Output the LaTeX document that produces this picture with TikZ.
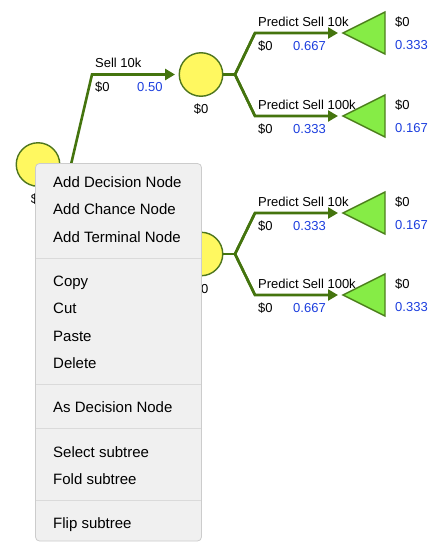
\documentclass[tikz,border=0pt]{standalone}
\usepackage{fontspec}
\setmainfont{Liberation Sans}
\usetikzlibrary{arrows.meta}
\definecolor{edgegreen}{RGB}{68,116,14}
\definecolor{circborder}{RGB}{78,118,30}
\definecolor{chancefill}{RGB}{255,248,96}
\definecolor{termfill}{RGB}{134,236,70}
\definecolor{termborder}{RGB}{76,128,28}
\definecolor{probblue}{RGB}{28,62,222}
\definecolor{menufill}{RGB}{240,240,240}
\definecolor{menuborder}{RGB}{204,204,204}
\definecolor{menusep}{RGB}{218,218,218}
\begin{document}
\begin{tikzpicture}[x=1pt,y=-1pt,
  chance/.style={circle, draw=circborder, fill=chancefill, line width=1.4pt, minimum size=43.5pt, inner sep=0pt},
  term/.style={draw=termborder, fill=termfill, line width=1.4pt, line join=miter},
  edgeline/.style={draw=edgegreen, line width=2.6pt},
  edgearrow/.style={edgeline, -{Triangle[length=10pt,width=11pt]}},
  lbl/.style={anchor=base west, inner sep=0pt, font=\fontsize{13}{15}\selectfont},
  prob/.style={lbl, text=probblue},
  vallbl/.style={anchor=base, inner sep=0pt, font=\fontsize{13}{15}\selectfont},
  menuitem/.style={anchor=base west, inner sep=0pt, font=\fontsize{15}{18}\selectfont},
  menusepline/.style={draw=menusep, line width=1pt}
]
\useasboundingbox (0,0) rectangle (437,554);

% chance nodes
\node[chance] (root) at (38,164.5) {};
\node[chance] (c1) at (201,74.5) {};
\node[chance] (c2) at (201,254) {};
\node[vallbl] (rootv) at (38,203) {\$0};
\node[vallbl] (c1v) at (201,113) {\$0};
\node[vallbl] (c2v) at (201,293) {\$0};

% terminal nodes (apex coordinates)
\coordinate (t1) at (343,33);
\coordinate (t2) at (343,116);
\coordinate (t3) at (343,213);
\coordinate (t4) at (343,295);
\draw[term] (t1) -- (385,12) -- (385,54) -- cycle;
\draw[term] (t2) -- (385,95) -- (385,137) -- cycle;
\draw[term] (t3) -- (385,192) -- (385,234) -- cycle;
\draw[term] (t4) -- (385,274) -- (385,316) -- cycle;

% bend points
\coordinate (r0) at (71,164.5);
\coordinate (b1) at (92,74.5);
\coordinate (b2) at (92,254);
\coordinate (j1) at (235,74.5);
\coordinate (u1) at (255,33);
\coordinate (d1) at (255,116);
\coordinate (j2) at (235,254);
\coordinate (u2) at (255,213);
\coordinate (d2) at (255,295);

% root edges
\draw[edgeline] (root.east) -- (r0);
\draw[edgearrow, shorten >=3.5pt] (r0) -- (b1) -- (c1.west);
\draw[edgearrow, shorten >=3.5pt] (r0) -- (b2) -- (c2.west);

% first chance node branches
\draw[edgeline] (c1.east) -- (j1);
\draw[edgeline] (u1) -- (j1) -- (d1);
\draw[edgearrow, shorten >=5pt] (j1) -- (u1) -- (t1);
\draw[edgearrow, shorten >=5pt] (j1) -- (d1) -- (t2);

% second chance node branches
\draw[edgeline] (c2.east) -- (j2);
\draw[edgeline] (u2) -- (j2) -- (d2);
\draw[edgearrow, shorten >=5pt] (j2) -- (u2) -- (t3);
\draw[edgearrow, shorten >=5pt] (j2) -- (d2) -- (t4);

% edge labels
\node[lbl] (l1) at (95,67) {Sell 10k};
\node[lbl] (l1v) at (95,91) {\$0};
\node[prob] (l1p) at (137,91) {0.50};

\node[lbl] (l2) at (258,26) {Predict Sell 10k};
\node[lbl] (l2v) at (258,50) {\$0};
\node[prob] (l2p) at (293,50) {0.667};
\node[lbl] (t1v) at (395,26.5) {\$0};
\node[prob] (t1p) at (395,49.5) {0.333};

\node[lbl] (l3) at (258,109) {Predict Sell 100k};
\node[lbl] (l3v) at (258,133) {\$0};
\node[prob] (l3p) at (293,133) {0.333};
\node[lbl] (t2v) at (395,109.5) {\$0};
\node[prob] (t2p) at (395,132.5) {0.167};

\node[lbl] (l4) at (258,206) {Predict Sell 10k};
\node[lbl] (l4v) at (258,230) {\$0};
\node[prob] (l4p) at (293,230) {0.333};
\node[lbl] (t3v) at (395,206.5) {\$0};
\node[prob] (t3p) at (395,229.5) {0.167};

\node[lbl] (l5) at (258,288) {Predict Sell 100k};
\node[lbl] (l5v) at (258,312) {\$0};
\node[prob] (l5p) at (293,312) {0.667};
\node[lbl] (t4v) at (395,288.5) {\$0};
\node[prob] (t4p) at (395,311.5) {0.333};

% context menu
\draw[fill=menufill, draw=menuborder, line width=0.8pt, rounded corners=4pt] (35.5,163.5) rectangle (201.5,541);
\draw[menusepline] (36,258) -- (201,258);
\draw[menusepline] (36,384.5) -- (201,384.5);
\draw[menusepline] (36,428) -- (201,428);
\draw[menusepline] (36,500) -- (201,500);

\node[menuitem] (m1) at (53,187) {Add Decision Node};
\node[menuitem] (m2) at (53,214.5) {Add Chance Node};
\node[menuitem] (m3) at (53,242) {Add Terminal Node};
\node[menuitem] (m4) at (53,286) {Copy};
\node[menuitem] (m5) at (53,313.5) {Cut};
\node[menuitem] (m6) at (53,341) {Paste};
\node[menuitem] (m7) at (53,368.5) {Delete};
\node[menuitem] (m8) at (53,412.5) {As Decision Node};
\node[menuitem] (m9) at (53,457) {Select subtree};
\node[menuitem] (m10) at (53,484.5) {Fold subtree};
\node[menuitem] (m11) at (53,528.5) {Flip subtree};
\end{tikzpicture}
\end{document}
